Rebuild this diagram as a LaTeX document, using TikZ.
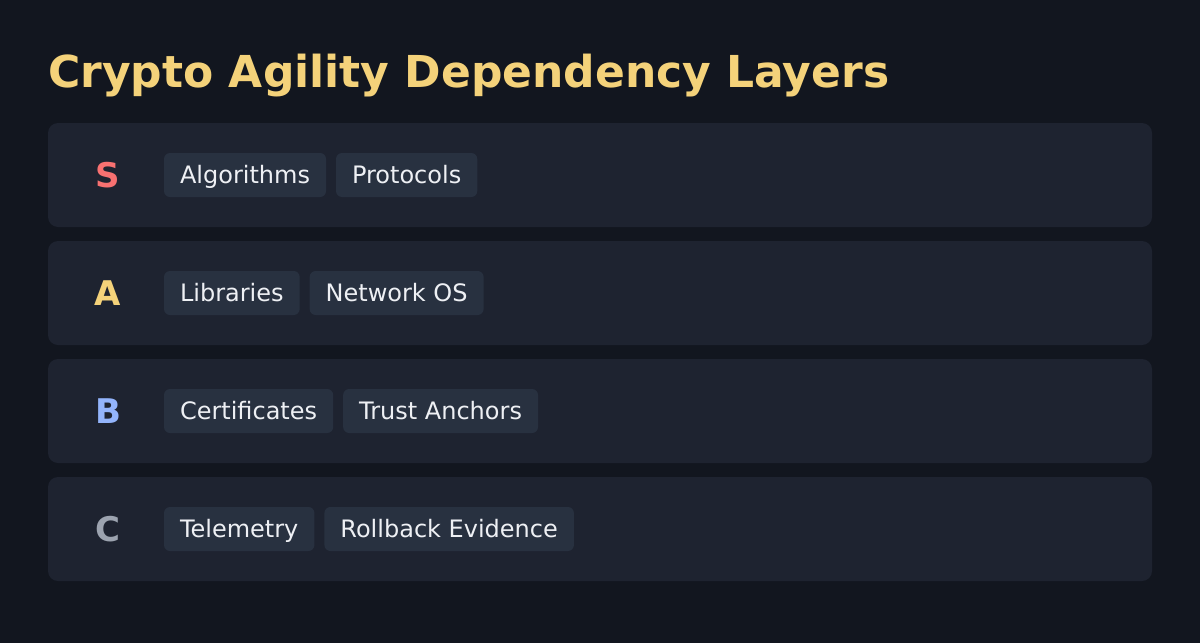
\documentclass[tikz,border=0pt]{standalone}
\usepackage{fontspec}
\setmainfont{DejaVu Sans}
\usetikzlibrary{positioning}
\definecolor{bgc}{HTML}{12161F}
\definecolor{rowc}{HTML}{1E2330}
\definecolor{chipc}{HTML}{283140}
\definecolor{chiptext}{HTML}{EEF0F4}
\definecolor{titlec}{HTML}{F4D27A}
\definecolor{sc}{HTML}{F87171}
\definecolor{bc}{HTML}{93B4FB}
\definecolor{cc}{HTML}{9CA3AF}
\tikzset{
  rowbox/.style={fill=rowc, rounded corners=10pt, draw=none},
  chip/.style={fill=chipc, rounded corners=6pt, text=chiptext, inner xsep=16pt, inner ysep=0pt,
    outer sep=0pt, minimum height=44pt, text height=17.5pt, text depth=0pt, anchor=west,
    font=\fontsize{24}{28}\selectfont},
  letter/.style={anchor=base, inner sep=0pt, font=\bfseries\fontsize{34}{40}\selectfont},
}
\begin{document}
\begin{tikzpicture}[x=1pt,y=-1pt]
\fill[bgc] (0,0) rectangle (1200,643);
\useasboundingbox (0,0) rectangle (1200,643);
\node[anchor=base west, inner sep=0pt, text=titlec, font=\bfseries\fontsize{44}{52}\selectfont] (title) at (48,87) {Crypto Agility Dependency Layers};
% rows
\fill[rowbox] (48,123) rectangle (1152,227);
\fill[rowbox] (48,241) rectangle (1152,345);
\fill[rowbox] (48,359) rectangle (1152,463);
\fill[rowbox] (48,477) rectangle (1152,581);
% letters
\node[letter, text=sc] (ls) at (108,187) {S};
\node[letter, text=titlec] (la) at (108,305) {A};
\node[letter, text=bc] (lb) at (108,423) {B};
\node[letter, text=cc] (lc) at (108,541) {C};
% chips
\node[chip] (alg) at (164,175) {Algorithms};
\node[chip, right=10pt of alg] (pro) {Protocols};
\node[chip] (lib) at (164,293) {Libraries};
\node[chip, right=10pt of lib] (nos) {Network OS};
\node[chip] (cer) at (164,411) {Certificates};
\node[chip, right=10pt of cer] (tru) {Trust Anchors};
\node[chip] (tel) at (164,529) {Telemetry};
\node[chip, right=10pt of tel] (rol) {Rollback Evidence};
\end{tikzpicture}
\end{document}
